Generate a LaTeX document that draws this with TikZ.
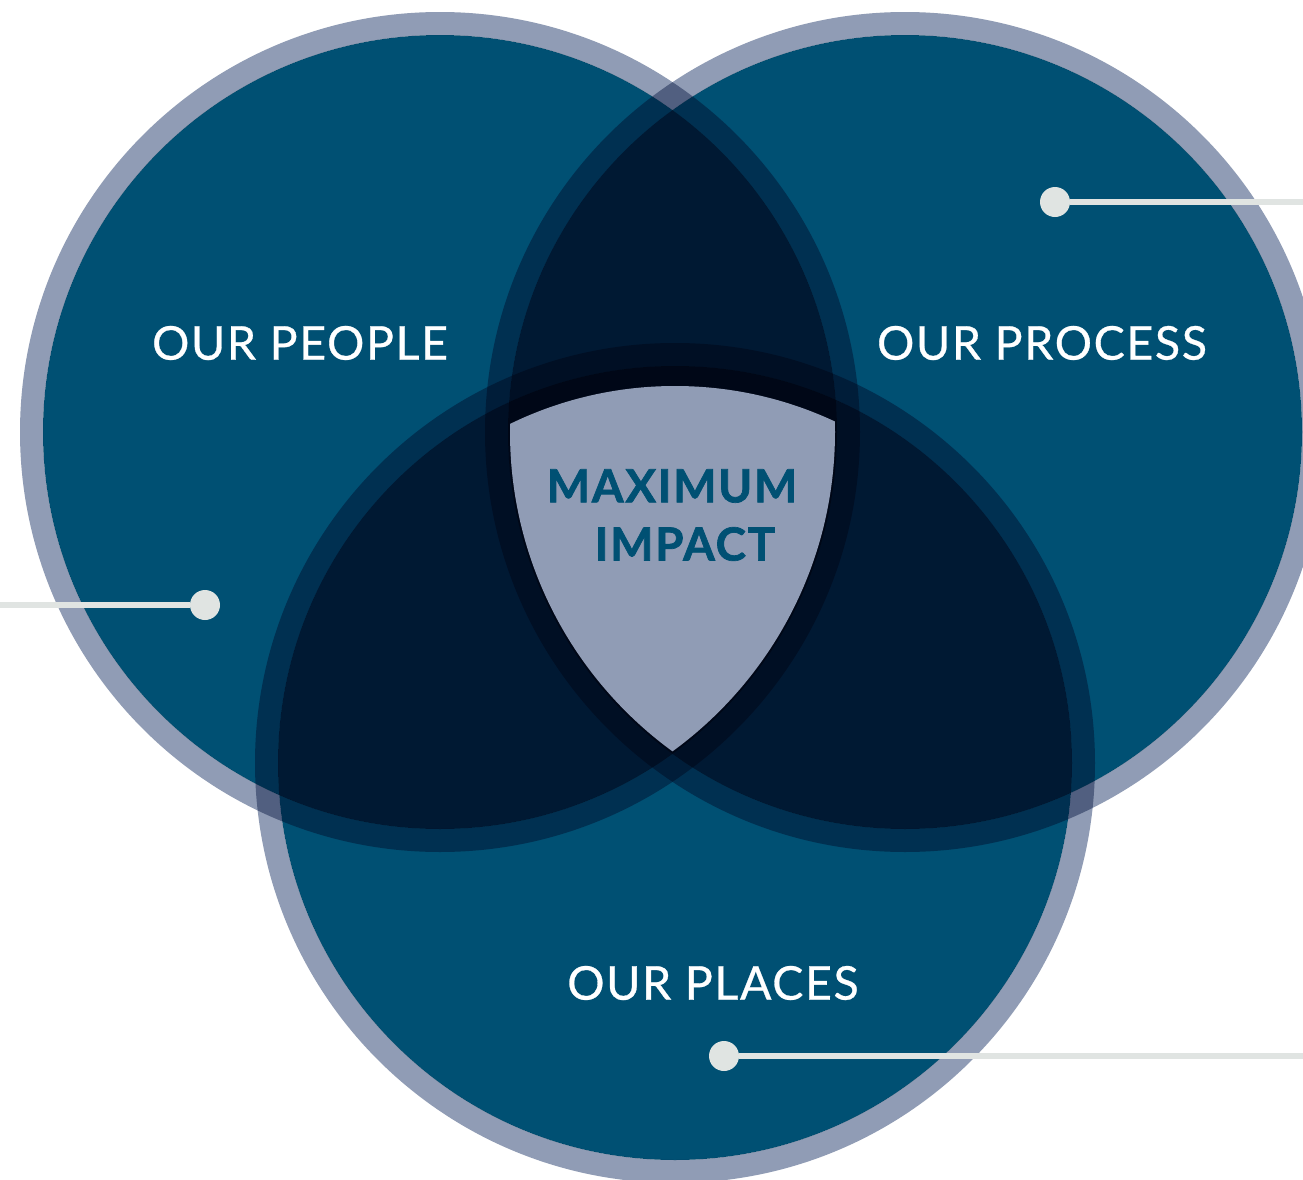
\documentclass[tikz,border=0pt]{standalone}
\usepackage{fontspec}
\setmainfont{Lato}
\newfontfamily\labelfont[LetterSpace=3.5, FakeBold=0.6]{Lato}
\newfontfamily\corefont[LetterSpace=4, FakeBold=1.5]{Lato}
\usepackage{tikz}

\definecolor{ringgrey}{HTML}{909CB5}
\definecolor{deepblue}{HTML}{005073}
\definecolor{pinlight}{HTML}{E0E4E2}

\tikzset{
    ring/.style={fill=ringgrey, even odd rule, blend mode=multiply},
    disc/.style={fill=deepblue, blend mode=multiply},
    label/.style={text=white, font=\labelfont\fontsize{26.5}{30}\selectfont},
    core/.style={text=deepblue, font=\corefont\bfseries\fontsize{26}{30}\selectfont},
    pin/.style={circle, fill=pinlight, inner sep=0pt, minimum size=30*0.02cm},
    pinline/.style={draw=pinlight, line width=6*0.02cm}
}

\begin{document}
\begin{tikzpicture}[x=0.02cm, y=-0.02cm]
    \fill[white] (0,0) rectangle (1303,1180);
    \clip (0,0) rectangle (1303,1180);

    \coordinate (people) at (440,432);
    \coordinate (process) at (905,432);
    \coordinate (places) at (675,763);

    % the three overlapping circles
    \foreach \c in {people, process, places} {
        \fill[ring] (\c) circle[radius=420] (\c) circle[radius=397];
        \fill[disc] (\c) circle[radius=397];
    }

    % shield in the middle
    \begin{scope}
        \clip (people) circle[radius=395];
        \clip (process) circle[radius=395];
        \fill[ringgrey] (places) circle[radius=377];
    \end{scope}

    \node[core] (maxi) at (672,486) {MAXIMUM};
    \node[core] (impact) at (685,544) {IMPACT};

    \node[label] (lblpeople) at (300,343) {OUR PEOPLE};
    \node[label] (lblprocess) at (1042,343) {OUR PROCESS};
    \node[label] (lblplaces) at (713,983) {OUR PLACES};

    % pins and their lines
    \node[pin] (pinprocess) at (1055,202) {};
    \node[pin] (pinpeople) at (205,605) {};
    \node[pin] (pinplaces) at (724,1056) {};
    \coordinate (endprocess) at (1303,202);
    \coordinate (endpeople) at (0,605);
    \coordinate (endplaces) at (1303,1056);
    \foreach \p in {process, people, places}
        \draw[pinline] (pin\p) -- (end\p);
\end{tikzpicture}
\end{document}
